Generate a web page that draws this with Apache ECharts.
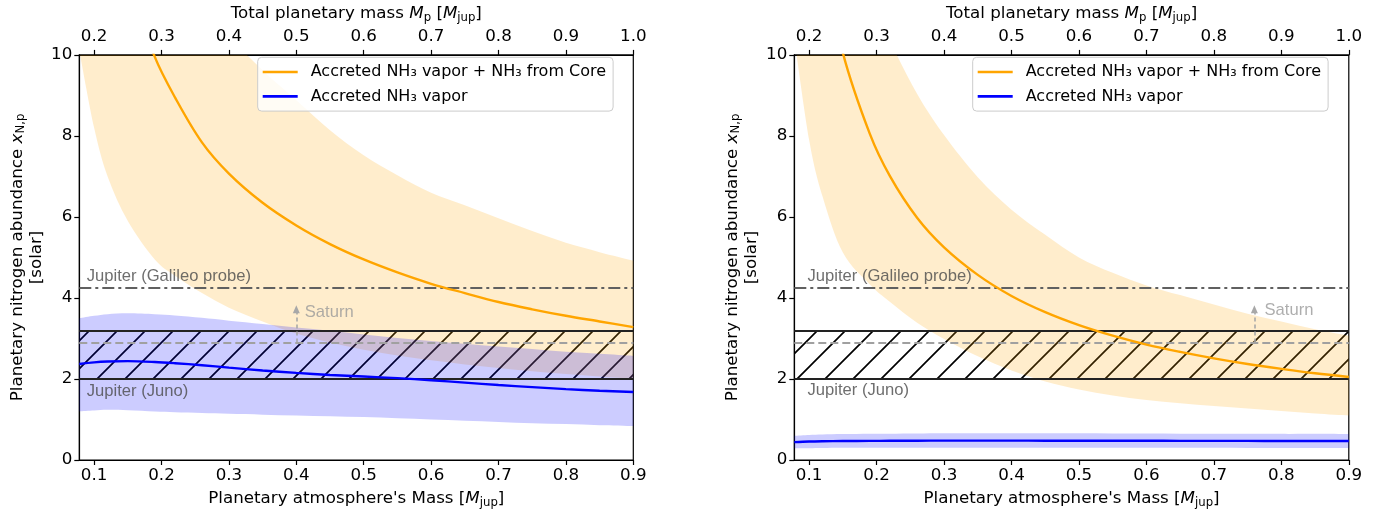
<!DOCTYPE html>
<html><head><meta charset="utf-8">
<script src="https://cdn.jsdelivr.net/npm/echarts@6/dist/echarts.min.js"></script>
<style>html,body{margin:0;padding:0;background:#fff}#c{width:1381px;height:514px}</style>
</head><body><div id="c"></div><script>
// ---------------- data ----------------
const massAtm = [0.078, 0.1, 0.12, 0.15, 0.19, 0.22, 0.26, 0.3, 0.35, 0.4, 0.45, 0.5, 0.55, 0.6, 0.65, 0.7, 0.75, 0.8, 0.85, 0.9];

// left panel
const leftCoreMid   = [19.6, 16.2, 14.0, 11.85, 9.95, 8.95, 7.84, 7.07, 6.35, 5.79, 5.33, 4.95, 4.63, 4.35, 4.12, 3.90, 3.72, 3.56, 3.42, 3.28];
const leftCoreHigh  = [30, 24, 20, 17, 14.5, 13, 11.6, 10.5, 9.62, 8.88, 8.14, 7.52, 7.03, 6.60, 6.29, 5.97, 5.65, 5.36, 5.13, 4.92];
const leftCoreLow   = [10.1, 8.2, 7.0, 5.9, 4.95, 4.55, 4.12, 3.76, 3.42, 3.12, 2.90, 2.72, 2.58, 2.46, 2.36, 2.27, 2.19, 2.12, 2.06, 2.0];
const leftVapMid    = [2.37, 2.41, 2.43, 2.44, 2.42, 2.39, 2.34, 2.28, 2.21, 2.15, 2.10, 2.06, 2.02, 1.97, 1.91, 1.85, 1.80, 1.75, 1.71, 1.68];
const leftVapHigh   = [3.50, 3.56, 3.60, 3.62, 3.60, 3.57, 3.51, 3.44, 3.36, 3.27, 3.19, 3.10, 3.01, 2.94, 2.87, 2.80, 2.74, 2.67, 2.62, 2.57];
const leftVapLow    = [1.20, 1.22, 1.24, 1.23, 1.20, 1.18, 1.16, 1.14, 1.12, 1.10, 1.08, 1.06, 1.03, 1.00, 0.97, 0.94, 0.91, 0.89, 0.86, 0.84];

// right panel
const rightCoreMid  = [18.9, 14.9, 12.45, 10.05, 8.05, 7.00, 5.98, 5.25, 4.57, 4.05, 3.65, 3.33, 3.07, 2.85, 2.67, 2.51, 2.37, 2.25, 2.14, 2.05];
const rightCoreHigh = [25, 20, 17, 14, 11.6, 10.35, 9.04, 8.02, 6.98, 6.18, 5.56, 5.00, 4.62, 4.31, 4.07, 3.84, 3.61, 3.42, 3.23, 3.07];
const rightCoreLow  = [10.4, 7.9, 6.5, 5.12, 4.33, 3.90, 3.39, 2.99, 2.56, 2.21, 1.94, 1.74, 1.59, 1.48, 1.40, 1.33, 1.27, 1.21, 1.15, 1.10];
const rightVapMid   = [0.44, 0.455, 0.462, 0.468, 0.472, 0.474, 0.476, 0.478, 0.478, 0.478, 0.477, 0.476, 0.475, 0.474, 0.473, 0.472, 0.471, 0.470, 0.469, 0.468];
const rightVapHigh  = [0.60, 0.62, 0.63, 0.64, 0.65, 0.65, 0.655, 0.66, 0.66, 0.66, 0.66, 0.66, 0.655, 0.655, 0.65, 0.65, 0.65, 0.645, 0.645, 0.64];
const rightVapLow   = [0.29, 0.29, 0.295, 0.30, 0.30, 0.30, 0.30, 0.30, 0.30, 0.30, 0.30, 0.30, 0.30, 0.30, 0.30, 0.30, 0.295, 0.295, 0.295, 0.295];

// reference values
const junoBand = [2.0, 3.2];
const galileoValue = 4.25;
const saturnValue = 2.9;
const saturnArrowTop = 3.72;
const saturnArrowX = [0.4, 0.76];

// tick labels
const bottomTicks = [0.1, 0.2, 0.3, 0.4, 0.5, 0.6, 0.7, 0.8, 0.9];
const topTicks = [0.2, 0.3, 0.4, 0.5, 0.6, 0.7, 0.8, 0.9, 1.0];
const coreMass = 0.1;
const xMin = 0.078, xMax = 0.9;

const NAME_CORE = 'Accreted NH\u2083 vapor + NH\u2083 from Core';
const NAME_VAP = 'Accreted NH\u2083 vapor';

// ---------------- styling ----------------
const FONT = "'DejaVu Sans', sans-serif";
const LFONT = "'Liberation Sans', Arial, sans-serif";
const FS = 16.7;
const ORANGE = '#FFA500', BLUE = '#0000FF';

function hatchPattern() {
  const s = 28;
  const c = document.createElement('canvas');
  c.width = s; c.height = s;
  const g = c.getContext('2d');
  g.strokeStyle = '#000';
  g.lineWidth = 1.7;
  g.beginPath();
  g.moveTo(-2, s + 2); g.lineTo(s + 2, -2);
  g.moveTo(-3, 3); g.lineTo(3, -3);
  g.moveTo(s - 3, s + 3); g.lineTo(s + 3, s - 3);
  g.stroke();
  return { image: c, repeat: 'repeat' };
}
const HATCH = hatchPattern();

const rich = {
  n: { fontFamily: FONT, fontSize: FS, color: '#000', lineHeight: 20 },
  i: { fontFamily: FONT, fontSize: FS, fontStyle: 'italic', color: '#000', lineHeight: 20 },
  s: { fontFamily: FONT, fontSize: 11.7, color: '#000', verticalAlign: 'bottom', lineHeight: 14 }
};
const richY = {
  n: { fontFamily: FONT, fontSize: FS, color: '#000', lineHeight: 19 },
  i: { fontFamily: FONT, fontSize: FS, fontStyle: 'italic', color: '#000', lineHeight: 19 },
  s: { fontFamily: FONT, fontSize: 11.7, color: '#000', verticalAlign: 'bottom', lineHeight: 13 }
};

const grids = [
  { left: 79.3, top: 49.3, width: 554, height: 413.7 },
  { left: 794.3, top: 49.3, width: 554.5, height: 413.7 }
];

const xAxes = [], yAxes = [], series = [], legends = [];

function labelStyle(extra) {
  return Object.assign({ fontFamily: FONT, fontSize: FS, color: '#000' }, extra);
}

// Catmull-Rom spline through pixel points (x clamped to avoid loops)
function splineCmds(pts, start) {
  let d = (start ? 'M' : 'L') + pts[0][0] + ' ' + pts[0][1];
  for (let i = 0; i < pts.length - 1; i++) {
    const p0 = pts[i - 1] || pts[i], p1 = pts[i], p2 = pts[i + 1], p3 = pts[i + 2] || pts[i + 1];
    let c1x = p1[0] + (p2[0] - p0[0]) / 6, c1y = p1[1] + (p2[1] - p0[1]) / 6;
    let c2x = p2[0] - (p3[0] - p1[0]) / 6, c2y = p2[1] - (p3[1] - p1[1]) / 6;
    const lo = Math.min(p1[0], p2[0]), hi = Math.max(p1[0], p2[0]);
    c1x = Math.max(lo, Math.min(hi, c1x)); c2x = Math.max(lo, Math.min(hi, c2x));
    d += ' C' + c1x + ' ' + c1y + ' ' + c2x + ' ' + c2y + ' ' + p2[0] + ' ' + p2[1];
  }
  return d;
}

function band(gi, lo, hi, color) {
  return {
    type: 'custom', xAxisIndex: gi * 2, yAxisIndex: gi, clip: true, silent: true, z: 1,
    data: massAtm.map((x, i) => [x, lo[i], hi[i]]),
    encode: { x: 0, y: [1, 2] },
    renderItem: function (params, api) {
      if (params.dataIndex !== 0) return null;
      const low = massAtm.map((x, i) => api.coord([x, lo[i]]));
      const up = massAtm.map((x, i) => api.coord([x, hi[i]])).reverse();
      const d = splineCmds(low, true) + ' ' + splineCmds(up, false) + ' Z';
      return { type: 'path', shape: { pathData: d }, style: { fill: color, stroke: null } };
    }
  };
}

const panels = [
  { core: [leftCoreLow, leftCoreMid, leftCoreHigh], vap: [leftVapLow, leftVapMid, leftVapHigh],
    labels: { galileo: [0.089, 4.52], juno: [0.089, 1.70], saturn: [0.4125, 3.64] }, arrowX: saturnArrowX[0] },
  { core: [rightCoreLow, rightCoreMid, rightCoreHigh], vap: [rightVapLow, rightVapMid, rightVapHigh],
    labels: { galileo: [0.0975, 4.52], juno: [0.0975, 1.72], saturn: [0.775, 3.70] }, arrowX: saturnArrowX[1] }
];

panels.forEach((p, gi) => {
  xAxes.push({
    type: 'value', gridIndex: gi, position: 'bottom', min: xMin, max: xMax,
    axisLine: { show: true, onZero: false, lineStyle: { color: '#000', width: 1.2 } },
    axisTick: { show: true, length: 5, lineStyle: { color: '#000', width: 1.2 }, customValues: bottomTicks },
    axisLabel: labelStyle({ customValues: bottomTicks, formatter: v => v.toFixed(1), margin: 7.5 }),
    splitLine: { show: false },
    name: "{n|Planetary atmosphere's Mass [}{i|M}{s|jup}{n|]}",
    nameLocation: 'middle', nameGap: 29,
    nameTextStyle: { rich: rich }
  });
  xAxes.push({
    type: 'value', gridIndex: gi, position: 'top', min: xMin + coreMass, max: xMax + coreMass,
    axisLine: { show: true, onZero: false, lineStyle: { color: '#000', width: 1.2 } },
    axisTick: { show: true, length: 5, lineStyle: { color: '#000', width: 1.2 }, customValues: topTicks },
    axisLabel: labelStyle({ customValues: topTicks, formatter: v => v.toFixed(1), margin: 9.5 }),
    splitLine: { show: false },
    name: '{n|Total planetary mass }{i|M}{s|p}{n| [}{i|M}{s|jup}{n|]}',
    nameLocation: 'middle', nameGap: 28,
    nameTextStyle: { rich: rich }
  });
  yAxes.push({
    type: 'value', gridIndex: gi, min: 0, max: 10, interval: 2,
    axisLine: { show: true, onZero: false, lineStyle: { color: '#000', width: 1.2 } },
    axisTick: { show: true, length: 5, lineStyle: { color: '#000', width: 1.2 } },
    axisLabel: labelStyle({ margin: 7 }),
    splitLine: { show: false },
    name: '{n|Planetary nitrogen abundance }{i|x}{s|N,p}\n{n|[solar]}',
    nameLocation: 'middle', nameRotate: 90, nameGap: 33,
    nameTextStyle: { rich: richY, align: 'center' }
  });

  series.push(band(gi, p.core[0], p.core[2], 'rgba(255,165,0,0.2)'));
  series.push(band(gi, p.vap[0], p.vap[2], 'rgba(0,0,255,0.2)'));

  series.push({
    type: 'line', xAxisIndex: gi * 2, yAxisIndex: gi, data: [], z: 3, silent: true,
    markArea: {
      silent: true,
      itemStyle: { color: HATCH, borderWidth: 0 },
      data: [[{ yAxis: junoBand[0] }, { yAxis: junoBand[1] }]]
    },
    markLine: {
      silent: true, symbol: ['none', 'none'], label: { show: false }, animation: false,
      data: [
        { yAxis: galileoValue, lineStyle: { type: [12, 4, 3, 4], color: '#606060', width: 2 } },
        { yAxis: saturnValue, lineStyle: { type: [8, 4], color: '#a0a0a0', width: 2 } },
        { yAxis: junoBand[0], lineStyle: { type: 'solid', color: '#222', width: 2 } },
        { yAxis: junoBand[1], lineStyle: { type: 'solid', color: '#222', width: 2 } },
        [
          { coord: [p.arrowX, saturnValue], symbol: 'none', lineStyle: { type: [4, 3], color: '#a8a8a8', width: 1.6 } },
          { coord: [p.arrowX, saturnArrowTop], symbol: 'triangle', symbolSize: [7, 8], itemStyle: { color: '#a8a8a8' } }
        ]
      ]
    }
  });

  series.push({
    type: 'scatter', xAxisIndex: gi * 2, yAxisIndex: gi, z: 4, silent: true,
    symbolSize: 0.1, itemStyle: { color: 'rgba(0,0,0,0)' },
    label: { show: true, position: 'right', distance: 0, fontFamily: LFONT, fontSize: 16.6, color: '#4a4a4a',
      formatter: q => q.data.value[2] },
    data: [
      { value: [p.labels.galileo[0], p.labels.galileo[1], 'Jupiter (Galileo probe)'] },
      { value: [p.labels.juno[0], p.labels.juno[1], 'Jupiter (Juno)'] },
      { value: [p.labels.saturn[0], p.labels.saturn[1], 'Saturn'], label: { color: '#9a9a9a' } }
    ]
  });

  series.push({
    type: 'line', name: NAME_CORE, xAxisIndex: gi * 2, yAxisIndex: gi, z: 5, clip: true,
    symbol: 'none', smooth: 0.35,
    itemStyle: { color: ORANGE }, lineStyle: { color: ORANGE, width: 2.4 },
    data: massAtm.map((x, i) => [x, p.core[1][i]])
  });
  series.push({
    type: 'line', name: NAME_VAP, xAxisIndex: gi * 2, yAxisIndex: gi, z: 5, clip: true,
    symbol: 'none', smooth: 0.35,
    itemStyle: { color: BLUE }, lineStyle: { color: BLUE, width: 2.4 },
    data: massAtm.map((x, i) => [x, p.vap[1][i]])
  });

  legends.push({
    left: grids[gi].left + 178.4, top: 57.3, orient: 'vertical', align: 'left',
    data: [NAME_CORE, NAME_VAP], icon: 'rect', itemWidth: 35, itemHeight: 2.6, itemGap: 4.8,
    padding: [5, 7, 5, 5],
    backgroundColor: 'rgba(255,255,255,0.8)', borderColor: '#cccccc', borderWidth: 1, borderRadius: 4,
    textStyle: { fontFamily: FONT, fontSize: 16, color: '#000', lineHeight: 19.5, padding: [0, 0, 0, 8] },
    selectedMode: false
  });
});

const chart = echarts.init(document.getElementById('c'), null, { renderer: 'canvas' });
chart.setOption({
  animation: false,
  backgroundColor: '#fff',
  grid: grids.map(g => Object.assign({ show: true, borderColor: '#000', borderWidth: 1.2, backgroundColor: 'transparent' }, g)),
  xAxis: xAxes,
  yAxis: yAxes,
  legend: legends,
  series: series
});
</script></body></html>
